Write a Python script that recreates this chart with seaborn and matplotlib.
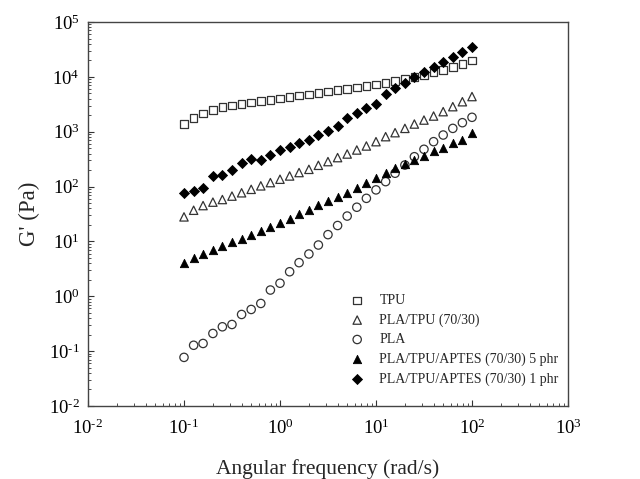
import numpy as np
import pandas as pd
import matplotlib
matplotlib.use("Agg")
import matplotlib.pyplot as plt
import seaborn as sns
from matplotlib.ticker import LogLocator, NullFormatter, FuncFormatter

sns.set_style("white")
plt.rcParams['font.family'] = ['Liberation Serif', 'DejaVu Serif']
plt.rcParams['mathtext.fontset'] = 'stix'
plt.rcParams['axes.unicode_minus'] = False

# angular frequency (rad/s), 10 points per decade
freq = [0.1, 0.126, 0.158, 0.2, 0.251, 0.316, 0.398, 0.501, 0.631, 0.794,
        1.0, 1.26, 1.58, 2.0, 2.51, 3.16, 3.98, 5.01, 6.31, 7.94,
        10.0, 12.6, 15.8, 20.0, 25.1, 31.6, 39.8, 50.1, 63.1, 79.4, 100.0]

tpu = [1380, 1800, 2150, 2500, 2800, 3000, 3200, 3400, 3600, 3800,
       4050, 4300, 4550, 4800, 5100, 5400, 5700, 6000, 6400, 6800,
       7300, 7800, 8400, 9100, 9900, 10800, 12000, 13300, 15000, 17000, 19700]

pla_tpu = [28, 37, 45, 52, 58, 67, 77, 89, 103, 118,
           136, 156, 180, 206, 244, 285, 337, 392, 464, 549,
           658, 812, 960, 1150, 1380, 1630, 1930, 2320, 2860, 3520, 4370]

pla = [0.077, 0.128, 0.138, 0.21, 0.278, 0.306, 0.466, 0.575, 0.74, 1.30,
       1.73, 2.8, 4.1, 5.9, 8.6, 13.3, 19.5, 29, 42, 61,
       87, 123, 175, 247, 350, 478, 658, 870, 1150, 1460, 1830]

aptes5 = [4.1, 4.9, 5.9, 7.0, 8.2, 9.6, 11.3, 13.2, 15.6, 18.5,
          22, 26, 32, 38, 46, 55, 65, 77, 93, 118,
          141, 175, 215, 258, 305, 363, 436, 502, 621, 714, 938]

aptes1 = [75, 84, 96, 156, 160, 200, 273, 314, 305, 371,
          464, 533, 614, 707, 870, 1030, 1270, 1750, 2160, 2660,
          3190, 4840, 6160, 7800, 10000, 12400, 15300, 18900, 23300, 28800, 34600]

labels = ["TPU", "PLA/TPU (70/30)", "PLA",
          "PLA/TPU/APTES (70/30) 5 phr", "PLA/TPU/APTES (70/30) 1 phr"]
series = [tpu, pla_tpu, pla, aptes5, aptes1]
markers = ["s", "^", "o", "^", "D"]
filled = [False, False, False, True, True]
sizes = [30, 36, 36, 36, 26]

fig = plt.figure(figsize=(6.4, 4.79), dpi=100)
ax = fig.add_axes([0.1375, 0.1524, 0.75, 0.8017])

for lab, vals, m, f, s in zip(labels, series, markers, filled, sizes):
    df = pd.DataFrame({"freq": freq, "G": vals})
    if f:
        sns.scatterplot(data=df, x="freq", y="G", marker=m, s=s, color="black",
                        edgecolor="black", linewidth=0.6, ax=ax, label=lab, zorder=3)
    else:
        sns.scatterplot(data=df, x="freq", y="G", marker=m, s=s, facecolors="none",
                        edgecolor="#333333", linewidth=0.9, ax=ax, label=lab, zorder=2)

ax.set_xscale("log")
ax.set_yscale("log")
ax.set_xlim(1e-2, 1e3)
ax.set_ylim(1e-2, 1e5)


def pow_fmt(v, pos):
    e = int(round(np.log10(v)))
    if e < 0:
        return r"$\mathregular{10^{\text{-}%d}}$" % (-e)
    return r"$\mathregular{10^{%d}}$" % e


ax.xaxis.set_major_locator(LogLocator(base=10, numticks=10))
ax.yaxis.set_major_locator(LogLocator(base=10, numticks=10))
ax.xaxis.set_major_formatter(FuncFormatter(pow_fmt))
ax.yaxis.set_major_formatter(FuncFormatter(pow_fmt))
ax.xaxis.set_minor_locator(LogLocator(base=10, subs=np.arange(2, 10), numticks=20))
ax.yaxis.set_minor_locator(LogLocator(base=10, subs=np.arange(2, 10), numticks=20))
ax.xaxis.set_minor_formatter(NullFormatter())
ax.yaxis.set_minor_formatter(NullFormatter())

ax.tick_params(axis="both", which="major", direction="in", length=4, width=0.8,
               labelsize=13.5, color="#333333", labelcolor="black",
               bottom=True, left=True, top=False, right=False, pad=6)
ax.tick_params(axis="both", which="minor", direction="in", length=2.5, width=0.6,
               color="#333333", bottom=True, left=True, top=False, right=False)
ax.tick_params(axis="x", which="major", pad=9)

for sp in ax.spines.values():
    sp.set_color("#444444")
    sp.set_linewidth(1.0)

ax.set_xlabel("Angular frequency (rad/s)", fontsize=15.5, labelpad=15)
ax.set_ylabel("G' (Pa)", fontsize=16.5, labelpad=6)

leg = ax.legend(loc="lower right", bbox_to_anchor=(0.995, 0.035), frameon=False,
                fontsize=10, handlelength=1.0, handletextpad=1.1,
                labelspacing=0.45, borderpad=0)

fig.savefig("out.png", dpi=100)
